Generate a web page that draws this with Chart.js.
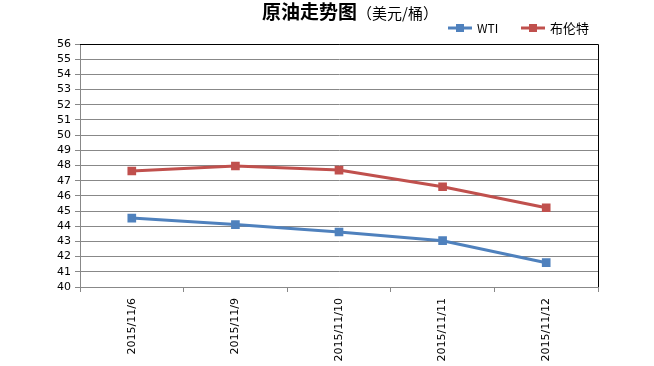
<!DOCTYPE html>
<html>
<head>
<meta charset="utf-8">
<script src="https://cdn.jsdelivr.net/npm/chart.js@4"></script>
<style>
  html, body { margin: 0; padding: 0; background: #fff; }
  #wrap { width: 654px; height: 366px; }
</style>
</head>
<body>
<div id="wrap"><canvas id="oilChart" width="654" height="366"></canvas></div>
<script>
// chart data
const dates = ['2015/11/6', '2015/11/9', '2015/11/10', '2015/11/11', '2015/11/12'];
const wti = [44.54, 44.11, 43.62, 43.05, 41.60];
const brent = [47.64, 47.97, 47.70, 46.60, 45.22];
const yTicks = [40, 41, 42, 43, 44, 45, 46, 47, 48, 49, 50, 51, 52, 53, 54, 55, 56];

const blue = '#4F81BD';
const red = '#C0504D';
const axisFont = { family: 'DejaVu Sans', size: 11 };

// title (bold part + normal part) and legend drawn by hand
const headerPlugin = {
  id: 'header',
  afterDraw(chart) {
    const ctx = chart.ctx;
    ctx.save();
    ctx.textBaseline = 'middle';
    ctx.fillStyle = '#000';
    const main = '原油走势图';
    const sub = '（美元/桶）';
    const x = 262;
    ctx.font = 'bold 19px "Noto Sans CJK SC"';
    const w1 = ctx.measureText(main).width;
    ctx.fillText(main, x, 12);
    ctx.font = '15px "Noto Sans CJK SC"';
    ctx.fillText(sub, x + w1, 13);

    // legend
    const items = [['WTI', blue, 448, 12], ['布伦特', red, 521, 13]];
    items.forEach(([label, color, lx, size]) => {
      ctx.strokeStyle = color;
      ctx.lineWidth = 3;
      ctx.beginPath();
      ctx.moveTo(lx, 28);
      ctx.lineTo(lx + 24, 28);
      ctx.stroke();
      ctx.fillStyle = color;
      ctx.fillRect(lx + 8, 24, 8, 8);
      ctx.fillStyle = '#000';
      ctx.font = size + 'px "Noto Sans CJK SC"';
      ctx.fillText(label, lx + 29, 28);
    });

    // frame: top and right edges of the plot
    const a = chart.chartArea;
    ctx.strokeStyle = '#000';
    ctx.lineWidth = 1;
    ctx.beginPath();
    ctx.moveTo(a.left, a.top + 0.5);
    ctx.lineTo(a.right + 0.5, a.top + 0.5);
    ctx.lineTo(a.right + 0.5, a.bottom);
    ctx.stroke();
    ctx.restore();
  }
};

const config = {
  type: 'line',
  data: {
    labels: dates,
    datasets: [
      {
        label: 'WTI',
        data: wti,
        borderColor: blue,
        backgroundColor: blue,
        borderWidth: 3,
        pointStyle: 'rect',
        pointRadius: 4,
        tension: 0
      },
      {
        label: '布伦特',
        data: brent,
        borderColor: red,
        backgroundColor: red,
        borderWidth: 3,
        pointStyle: 'rect',
        pointRadius: 4,
        tension: 0
      }
    ]
  },
  options: {
    responsive: false,
    animation: false,
    layout: { padding: { top: 44, right: 56, left: 0, bottom: 0 } },
    plugins: {
      legend: { display: false },
      title: { display: false },
      tooltip: { enabled: false }
    },
    scales: {
      x: {
        offset: true,
        grid: {
          offset: true,
          drawOnChartArea: false,
          tickLength: 5,
          color: '#888'
        },
        border: { color: '#888' },
        ticks: {
          minRotation: 90,
          maxRotation: 90,
          autoSkip: false,
          padding: 6,
          color: '#000',
          font: axisFont
        },
        afterFit(scale) { scale.height = 79; }
      },
      y: {
        min: 40,
        max: 56,
        afterBuildTicks(scale) {
          scale.ticks = yTicks.map(v => ({ value: v }));
        },
        grid: {
          color: '#888',
          tickLength: 5
        },
        border: { color: '#888' },
        ticks: {
          autoSkip: false,
          padding: 4,
          color: '#000',
          font: axisFont
        },
        afterFit(scale) { scale.width = 80; }
      }
    }
  },
  plugins: [headerPlugin]
};

const ctx = document.getElementById('oilChart').getContext('2d');
const oilChart = new Chart(ctx, config);
</script>
</body>
</html>
